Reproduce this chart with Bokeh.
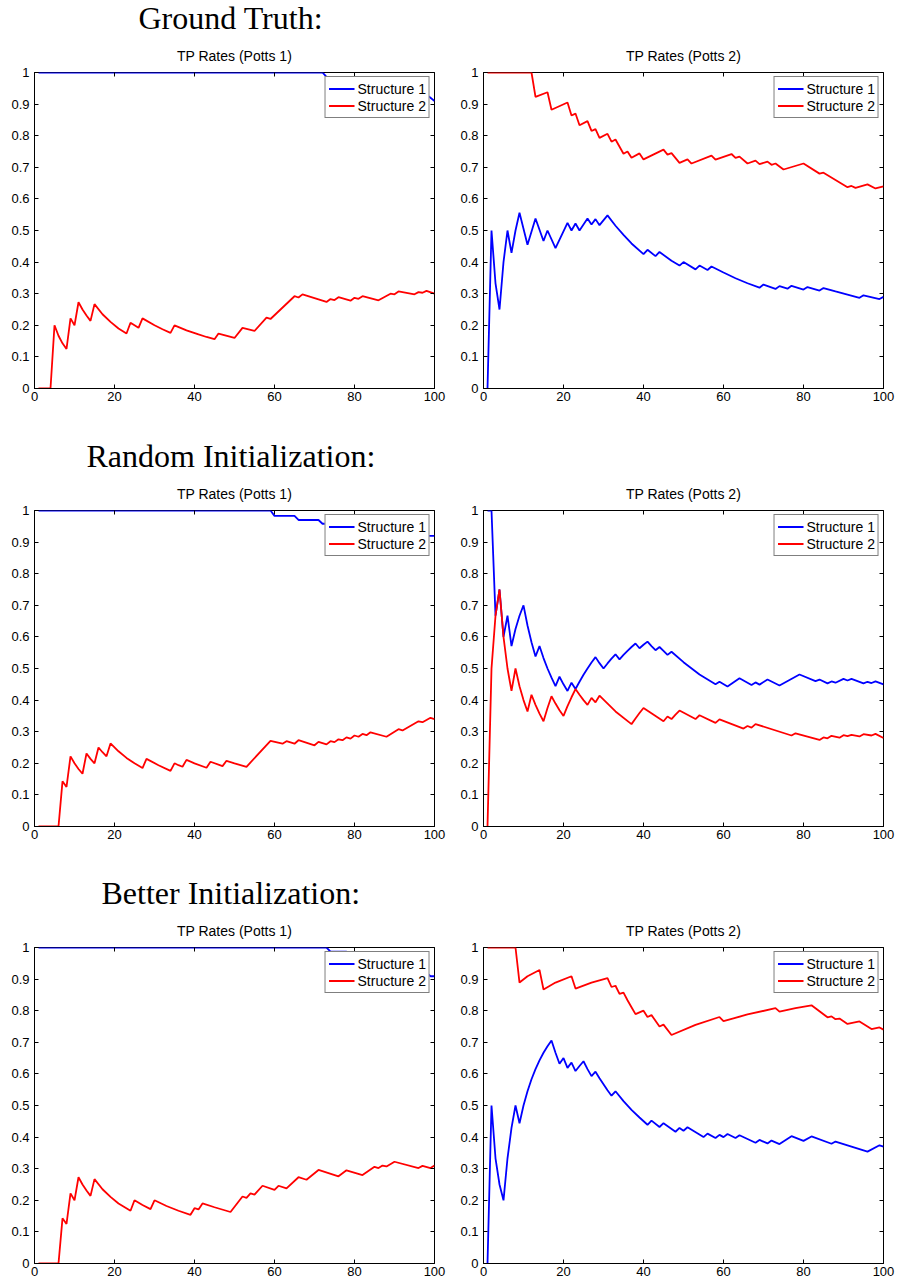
from bokeh.plotting import figure
from bokeh.layouts import column, row
from bokeh.models import (Title, Legend, LegendItem, LinearAxis, FixedTicker,
                          CustomJSTickFormatter, Range1d)
from bokeh.embed import file_html
from bokeh.resources import INLINE

# ---------------- texts / ticks ----------------
section_titles = ["Ground Truth:", "Random Initialization:", "Better Initialization:"]
panel_titles = ["TP Rates (Potts 1)", "TP Rates (Potts 2)"]
series_names = ["Structure 1", "Structure 2"]
series_colors = ["#0000ff", "#ff0000"]
x_ticks = [0, 20, 40, 60, 80, 100]
x_tick_labels = ["0", "20", "40", "60", "80", "100"]
y_ticks = [0, 0.1, 0.2, 0.3, 0.4, 0.5, 0.6, 0.7, 0.8, 0.9, 1]
y_tick_labels = ["0", "0.1", "0.2", "0.3", "0.4", "0.5", "0.6", "0.7", "0.8", "0.9", "1"]

# ---------------- Ground Truth, Potts 1 ----------------
gt_p1_s1_x = [1, 72, 73, 77, 78, 82, 83, 88, 89, 93, 94, 98, 99, 100]
gt_p1_s1_y = [1, 1, 0.986, 0.986, 0.974, 0.974, 0.962, 0.962, 0.95, 0.95, 0.938, 0.93, 0.92, 0.91]
gt_p1_s2_x = [1, 4, 5, 6, 7, 8, 9, 10, 11, 12, 13, 14, 15, 17, 19, 21, 23, 24, 26, 27,
              30, 32, 34, 35, 38, 41, 43, 45, 46, 50, 52, 55, 58, 59, 65, 66, 67, 70, 73, 74,
              75, 76, 79, 80, 81, 82, 86, 89, 90, 91, 95, 96, 97, 98, 100]
gt_p1_s2_y = [0, 0, 0.2, 0.167, 0.143, 0.125, 0.222, 0.2, 0.273, 0.25,
              0.231, 0.214, 0.267, 0.235, 0.211, 0.19, 0.174, 0.208, 0.192, 0.222,
              0.2, 0.1875, 0.176, 0.2, 0.184, 0.171, 0.163, 0.156, 0.174, 0.16,
              0.192, 0.182, 0.224, 0.22, 0.292, 0.288, 0.298, 0.286, 0.274, 0.283,
              0.28, 0.289, 0.278, 0.287, 0.284, 0.292, 0.279, 0.3, 0.298, 0.307,
              0.298, 0.305, 0.303, 0.309, 0.3]

# ---------------- Ground Truth, Potts 2 ----------------
gt_p2_s1_x = [1, 2, 3, 4, 5, 6, 7, 8, 9, 11, 13, 15, 16, 18, 21, 22, 23, 24,
              26, 27, 28, 29, 31, 33, 35, 37, 40, 41, 43, 44, 47, 49, 50, 53, 54, 56, 57, 60,
              63, 66, 69, 70, 73, 74, 76, 77, 80, 81, 84, 85, 88, 91, 94, 95, 99, 100]
gt_p2_s1_y = [0, 0.5, 0.333, 0.25, 0.4, 0.5, 0.429, 0.5, 0.556,
              0.455, 0.538, 0.467, 0.5, 0.444, 0.524, 0.5, 0.522, 0.5,
              0.538, 0.519, 0.536, 0.517, 0.548, 0.515, 0.486, 0.459, 0.425, 0.439,
              0.419, 0.432, 0.404, 0.389, 0.4, 0.377, 0.389, 0.375, 0.386, 0.367,
              0.349, 0.333, 0.319, 0.329, 0.315, 0.324, 0.316, 0.325, 0.313, 0.321,
              0.31, 0.318, 0.307, 0.297, 0.287, 0.295, 0.283, 0.29]
gt_p2_s2_x = [1, 12, 13, 16, 17, 21, 22, 23, 24, 26, 27, 28, 29, 31, 32, 33, 35, 36, 37, 39,
              40, 45, 46, 47, 49, 51, 52, 57, 58, 62, 63, 64, 66, 68, 69, 71, 72, 73, 75, 80,
              84, 85, 91, 92, 93, 96, 98, 100]
gt_p2_s2_y = [1, 1, 0.923, 0.9375, 0.882, 0.905, 0.864, 0.87, 0.833, 0.846,
              0.815, 0.821, 0.793, 0.806, 0.781, 0.788, 0.743, 0.75, 0.73, 0.744,
              0.725, 0.756, 0.74, 0.745, 0.714, 0.725, 0.712, 0.737, 0.724, 0.742,
              0.73, 0.734, 0.712, 0.721, 0.71, 0.718, 0.708, 0.712, 0.693, 0.712,
              0.68, 0.683, 0.637, 0.641, 0.635, 0.646, 0.633, 0.64]

# ---------------- Random Initialization, Potts 1 ----------------
rnd_p1_s1_x = [1, 59, 60, 65, 66, 71, 72, 79, 80, 88, 89, 95, 96, 100]
rnd_p1_s1_y = [1, 1, 0.983, 0.983, 0.97, 0.97, 0.958, 0.958, 0.948, 0.948, 0.937, 0.937, 0.92, 0.92]
rnd_p1_s2_x = [1, 6, 7, 8, 9, 10, 11, 12, 13, 14, 15, 16, 17, 18, 19, 21, 23, 25, 27, 28,
               31, 34, 35, 36, 37, 38, 40, 43, 44, 47, 48, 50, 53, 59, 62, 63, 65, 66, 70, 71,
               73, 74, 75, 76, 77, 78, 79, 80, 81, 82, 83, 84, 88, 91, 92, 96, 97, 99, 100]
rnd_p1_s2_y = [0, 0, 0.143, 0.125, 0.222, 0.2, 0.182, 0.167, 0.231, 0.214,
               0.2, 0.25, 0.235, 0.222, 0.263, 0.238, 0.217, 0.2, 0.185, 0.214,
               0.194, 0.176, 0.2, 0.194, 0.189, 0.211, 0.2, 0.186, 0.205, 0.191,
               0.208, 0.2, 0.189, 0.271, 0.262, 0.27, 0.262, 0.273, 0.257, 0.268,
               0.26, 0.27, 0.267, 0.276, 0.273, 0.282, 0.278, 0.288, 0.284, 0.293,
               0.289, 0.298, 0.284, 0.308, 0.304, 0.333, 0.33, 0.344, 0.34]

# ---------------- Random Initialization, Potts 2 ----------------
rnd_p2_s1_x = [1, 2, 3, 4, 5, 6, 7, 8, 9, 10, 11, 12, 13, 14, 15, 16, 17, 18, 19, 20,
               21, 22, 23, 24, 25, 26, 27, 28, 29, 30, 31, 32, 33, 34, 35, 36, 37, 38, 39, 40,
               41, 42, 43, 44, 45, 46, 47, 50, 54, 58, 59, 61, 64, 67, 68, 69, 71,
               74, 79, 83, 84, 86, 87, 88, 90, 91, 92, 95, 96, 97, 98, 100]
rnd_p2_s1_y = [1, 1, 0.667, 0.75, 0.6, 0.667, 0.571, 0.625, 0.667, 0.7,
               0.636, 0.583, 0.538, 0.571, 0.533, 0.5, 0.471, 0.444, 0.474, 0.45,
               0.429, 0.455, 0.435, 0.458, 0.48, 0.5, 0.519, 0.536, 0.517, 0.5,
               0.516, 0.531, 0.545, 0.529, 0.543, 0.556, 0.568, 0.579, 0.564, 0.575,
               0.585, 0.571, 0.558, 0.568, 0.556, 0.543, 0.553, 0.52, 0.481, 0.45,
               0.458, 0.443, 0.469, 0.448, 0.456, 0.449, 0.465,
               0.446, 0.481, 0.46, 0.465, 0.453, 0.459, 0.455, 0.467, 0.462, 0.467,
               0.453, 0.458, 0.454, 0.459, 0.45]
rnd_p2_s2_x = [1, 2, 3, 4, 5, 6, 7, 8, 9, 10, 11, 12, 13, 14, 15, 16, 17, 18, 19, 20,
               21, 22, 23, 24, 25, 26, 27, 28, 29, 33, 37, 38, 39, 40, 45, 46, 47, 48, 49,
               53, 54, 58, 59, 65, 66, 67, 68, 77, 78, 84, 85, 86, 87, 89, 90, 91, 92, 94, 95,
               97, 98, 100]
rnd_p2_s2_y = [0, 0.5, 0.667, 0.75, 0.6, 0.5, 0.429, 0.5, 0.444, 0.4,
               0.364, 0.417, 0.385, 0.357, 0.333, 0.375, 0.412, 0.389, 0.368, 0.35,
               0.381, 0.409, 0.435, 0.417, 0.4, 0.385, 0.407, 0.393, 0.414,
               0.364, 0.324, 0.342, 0.359, 0.375, 0.333, 0.348, 0.34, 0.354, 0.367,
               0.34, 0.352, 0.328, 0.339, 0.31, 0.318, 0.313, 0.324, 0.288, 0.295,
               0.274, 0.282, 0.279, 0.287, 0.281, 0.289, 0.286, 0.29, 0.285, 0.292,
               0.288, 0.293, 0.28]

# ---------------- Better Initialization, Potts 1 ----------------
bet_p1_s1_x = [1, 73, 74, 78, 79, 84, 85, 89, 90, 94, 95, 98, 99, 100]
bet_p1_s1_y = [1, 1, 0.987, 0.987, 0.975, 0.975, 0.963, 0.963, 0.95, 0.95, 0.935, 0.92, 0.909, 0.909]
bet_p1_s2_x = [1, 6, 7, 8, 9, 10, 11, 12, 13, 14, 15, 17, 19, 21, 24, 25, 27, 29, 30, 33,
               36, 39, 40, 41, 42, 45, 49, 52, 53, 54, 55, 57, 60, 61, 63, 66, 68, 71, 76, 78,
               82, 85, 86, 87, 88, 90, 96, 97, 99, 100]
bet_p1_s2_y = [0, 0, 0.143, 0.125, 0.222, 0.2, 0.273, 0.25, 0.231, 0.214,
               0.267, 0.235, 0.211, 0.19, 0.167, 0.2, 0.185, 0.172, 0.2, 0.182,
               0.167, 0.154, 0.175, 0.171, 0.19, 0.178, 0.163, 0.212, 0.208, 0.222,
               0.218, 0.246, 0.233, 0.246, 0.238, 0.273, 0.265, 0.296, 0.276, 0.295,
               0.28, 0.306, 0.302, 0.31, 0.307, 0.322, 0.302, 0.309, 0.302, 0.31]

# ---------------- Better Initialization, Potts 2 ----------------
bet_p2_s1_x = [1, 2, 3, 4, 5, 6, 7, 8, 9, 10, 11, 12, 13, 14, 15, 16, 17, 18, 19, 20,
               21, 22, 23, 24, 25, 26, 27, 28, 29, 30, 31, 32, 33, 35, 37, 39, 41, 42, 44, 45,
               48, 49, 50, 51, 55, 56, 58, 59, 60, 61, 63, 64, 68, 69, 71, 72, 74, 77, 80, 82,
               87, 88, 92, 96, 99, 100]
bet_p2_s1_y = [0, 0.5, 0.333, 0.25, 0.2, 0.333, 0.429, 0.5, 0.444, 0.5,
               0.545, 0.583, 0.615, 0.643, 0.667, 0.6875, 0.706, 0.667, 0.632, 0.65,
               0.619, 0.636, 0.609, 0.625, 0.64, 0.615, 0.593, 0.607, 0.586, 0.567,
               0.548, 0.531, 0.545, 0.514, 0.486, 0.462, 0.439, 0.452, 0.432, 0.444,
               0.417, 0.429, 0.42, 0.431, 0.4, 0.411, 0.397, 0.407, 0.4, 0.41,
               0.397, 0.406, 0.382, 0.391, 0.38, 0.389, 0.378, 0.403, 0.388, 0.402,
               0.379, 0.386, 0.37, 0.354, 0.374, 0.37]
bet_p2_s2_x = [1, 8, 9, 11, 14, 15, 18, 22, 23, 27, 31, 32, 33, 34, 35, 36, 37, 38, 40, 41,
               42, 44, 45, 47, 53, 59, 60, 66, 73, 74, 78, 82, 86, 87, 88, 89, 91, 94, 97, 99,
               100]
bet_p2_s2_y = [1, 1, 0.889, 0.909, 0.929, 0.867, 0.889, 0.909, 0.87, 0.889,
               0.903, 0.875, 0.879, 0.853, 0.857, 0.833, 0.811, 0.789, 0.8, 0.78,
               0.786, 0.75, 0.756, 0.723, 0.755, 0.78, 0.767, 0.788, 0.808, 0.797,
               0.808, 0.817, 0.779, 0.782, 0.773, 0.775, 0.758, 0.766, 0.742, 0.747,
               0.74]

# ---------------- styling helpers ----------------
SANS = "Liberation Sans"
SERIF = "Liberation Serif"
FRAME_W, FRAME_H = 400, 316
TOP = 72
HEADING_LEFT = [104, 52, 67]   # horizontal offset of each heading from the frame's left edge


def label_formatter(tvals, tlabels):
    return CustomJSTickFormatter(args=dict(tvals=tvals, tlabels=tlabels), code="""
        for (let i = 0; i < tvals.length; i++) {
            if (Math.abs(tvals[i] - tick) < 1e-9) { return tlabels[i]; }
        }
        return '';
    """)


def style_axis(ax, tvals, tlabels, standoff):
    ax.ticker = FixedTicker(ticks=tvals)
    ax.formatter = label_formatter(tvals, tlabels)
    ax.major_tick_in = 4
    ax.major_tick_out = 0
    ax.minor_tick_in = 0
    ax.minor_tick_out = 0
    ax.major_tick_line_color = "black"
    ax.major_tick_line_width = 1
    ax.axis_line_color = "black"
    ax.axis_line_width = 1
    ax.major_label_standoff = standoff
    ax.major_label_text_font = SANS
    ax.major_label_text_font_size = "13px"
    ax.major_label_text_color = "black"


def mirror_axis(tvals):
    return LinearAxis(ticker=FixedTicker(ticks=tvals),
                      formatter=CustomJSTickFormatter(code="return '';"),
                      major_tick_in=4, major_tick_out=0,
                      minor_tick_in=0, minor_tick_out=0,
                      major_tick_line_color="black",
                      major_label_standoff=0,
                      major_label_text_font_size="0px",
                      axis_line_color=None)


def make_panel(title, s1x, s1y, s2x, s2y, col, bottom_border, heading=None, heading_left=0):
    p = figure(title=None, output_backend="svg", toolbar_location=None,
               frame_width=FRAME_W, frame_height=FRAME_H,
               x_range=Range1d(0, 100), y_range=Range1d(0, 1),
               min_border_left=34, min_border_right=15 if col == 0 else 13,
               min_border_top=TOP, min_border_bottom=bottom_border,
               background_fill_color="white", border_fill_color="white")
    p.outline_line_color = "black"
    p.outline_line_width = 1
    p.outline_line_alpha = 1
    p.xgrid.visible = False
    p.ygrid.visible = False

    style_axis(p.below[0], x_ticks, x_tick_labels, 3)
    style_axis(p.left[0], y_ticks, y_tick_labels, 5)
    p.add_layout(mirror_axis(x_ticks), "above")
    p.add_layout(mirror_axis(y_ticks), "right")

    r1 = p.line(s1x, s1y, line_color=series_colors[0], line_width=1.8)
    r2 = p.line(s2x, s2y, line_color=series_colors[1], line_width=1.8)

    legend = Legend(items=[LegendItem(label=series_names[0], renderers=[r1]),
                           LegendItem(label=series_names[1], renderers=[r2])],
                    location="top_right", margin=4, padding=3, spacing=0,
                    glyph_width=26, glyph_height=17, label_height=17,
                    label_standoff=3,
                    label_text_font=SANS, label_text_font_size="14px",
                    label_text_color="black",
                    border_line_color="black", border_line_width=1.2,
                    background_fill_color="white", background_fill_alpha=1)
    p.add_layout(legend)

    p.add_layout(Title(text=title, align="center", standoff=18,
                       text_font=SANS, text_font_size="14px", text_font_style="normal",
                       text_color="black"), "above")
    if heading is not None:
        p.add_layout(Title(text=heading, align="left", offset=heading_left,
                           vertical_align="top", standoff=-2,
                           text_font=SERIF, text_font_size="32px", text_font_style="normal",
                           text_color="black"), "above")
    return p


data = [
    (gt_p1_s1_x, gt_p1_s1_y, gt_p1_s2_x, gt_p1_s2_y, gt_p2_s1_x, gt_p2_s1_y, gt_p2_s2_x, gt_p2_s2_y),
    (rnd_p1_s1_x, rnd_p1_s1_y, rnd_p1_s2_x, rnd_p1_s2_y, rnd_p2_s1_x, rnd_p2_s1_y, rnd_p2_s2_x, rnd_p2_s2_y),
    (bet_p1_s1_x, bet_p1_s1_y, bet_p1_s2_x, bet_p1_s2_y, bet_p2_s1_x, bet_p2_s1_y, bet_p2_s2_x, bet_p2_s2_y),
]
bottom_borders = [50, 49, 18]

rows = []
for i, d in enumerate(data):
    left = make_panel(panel_titles[0], d[0], d[1], d[2], d[3], 0, bottom_borders[i],
                      heading=section_titles[i], heading_left=HEADING_LEFT[i])
    right = make_panel(panel_titles[1], d[4], d[5], d[6], d[7], 1, bottom_borders[i])
    rows.append(row(left, right, spacing=0))

layout = column(*rows, spacing=0)

open("out.html", "w").write(file_html(layout, INLINE, title="TP Rates"))
